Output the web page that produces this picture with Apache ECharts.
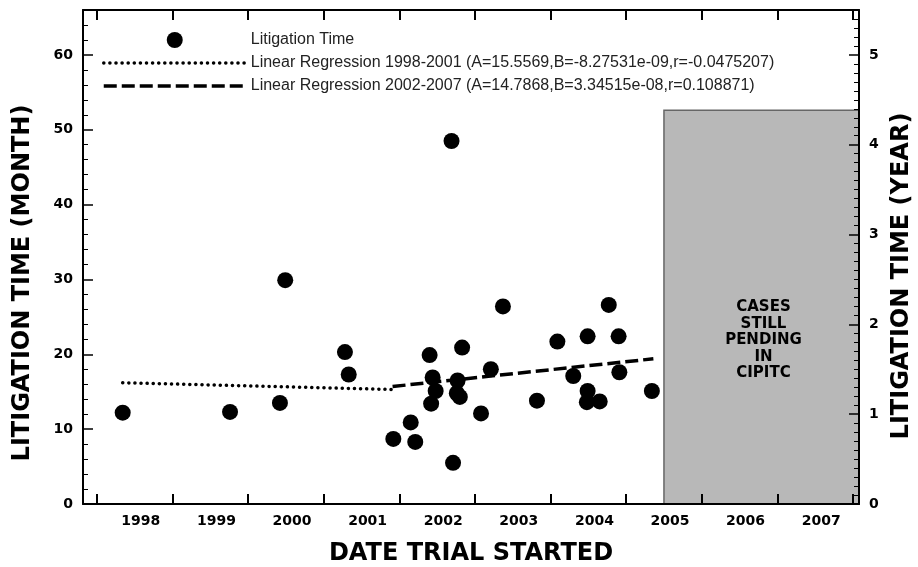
<!DOCTYPE html>
<html>
<head>
<meta charset="utf-8">
<script src="https://cdn.jsdelivr.net/npm/echarts@6/dist/echarts.min.js"></script>
<style>
  html, body { margin: 0; padding: 0; background: #fff; }
  #chart { width: 918px; height: 567px; }
</style>
</head>
<body>
<div id="chart"></div>
<script>
// litigation cases: trial start (fractional year) and duration (months)
var trialStart = [1998.34, 1999.76, 2000.42, 2000.49, 2001.28, 2001.33, 2001.92, 2002.15, 2002.21,
  2002.40, 2002.44, 2002.48, 2002.42, 2002.69, 2002.71, 2002.77, 2002.76, 2002.80, 2002.83,
  2003.08, 2003.21, 2003.37, 2003.82, 2004.09, 2004.30, 2004.49, 2004.49, 2004.48, 2004.65,
  2004.77, 2004.90, 2004.91, 2005.34];
var litigationMonths = [12.2, 12.3, 13.5, 29.9, 20.3, 17.3, 8.7, 10.9, 8.3,
  19.9, 16.9, 15.1, 13.4, 48.5, 5.5, 16.5, 14.8, 14.3, 20.9,
  12.1, 18.0, 26.4, 13.8, 21.7, 17.1, 22.4, 15.1, 13.6, 13.7,
  26.6, 22.4, 17.6, 15.1];

// regression lines (end points)
var reg1Years = [1998.34, 2001.90];
var reg1Months = [16.2, 15.3];
var reg2Years = [2001.91, 2005.36];
var reg2Months = [15.7, 19.4];

var yearTicks = [1998, 1999, 2000, 2001, 2002, 2003, 2004, 2005, 2006, 2007, 2008];
var yearLabels = [1998, 1999, 2000, 2001, 2002, 2003, 2004, 2005, 2006, 2007];

// pending cases box
var pendingFrom = 2005.5;
var pendingTo = 2008.08;
var pendingMonths = 52.6;

var boldFont = "DejaVu Sans";
var legendNames = [
  "Litigation Time",
  "Linear Regression 1998-2001 (A=15.5569,B=-8.27531e-09,r=-0.0475207)",
  "Linear Regression 2002-2007 (A=14.7868,B=3.34515e-08,r=0.108871)"
];

var dottedStyle = { color: "#000", width: 3.5, type: [0.1, 6], cap: "round" };
var dashedStyle = { color: "#000", width: 3.5, type: [13, 5] };

function zipPairs(xs, ys) {
  var out = [];
  for (var i = 0; i < xs.length; i++) out.push([xs[i], ys[i]]);
  return out;
}

var chart = echarts.init(document.getElementById("chart"));

var xCommon = {
  type: "value",
  min: 1997.815,
  max: 2008.08,
  z: 5,
  axisLine: { show: true, onZero: false, lineStyle: { color: "#000", width: 2 } },
  splitLine: { show: false }
};
var tickLabelStyle = { fontFamily: boldFont, fontWeight: "bold", fontSize: 14, color: "#000" };

function titleStyle(padding) {
  return { fontFamily: boldFont, fontWeight: "bold", fontSize: 24, color: "#000", padding: padding };
}

chart.setOption({
  animation: false,
  grid: { left: 83, right: 59, top: 10, bottom: 63, outerBoundsMode: "none" },
  legend: {
    orient: "vertical",
    left: 97,
    top: 27,
    itemWidth: 142,
    itemHeight: 16,
    itemGap: 7,
    textStyle: { fontFamily: "Liberation Sans", fontSize: 16, color: "#222" },
    data: [
      { name: legendNames[0] },
      { name: legendNames[1], itemStyle: { opacity: 0 }, lineStyle: dottedStyle },
      { name: legendNames[2], itemStyle: { opacity: 0 }, lineStyle: dashedStyle }
    ]
  },
  xAxis: [
    Object.assign({}, xCommon, {
      position: "bottom",
      name: "DATE TRIAL STARTED",
      nameLocation: "middle",
      nameGap: 38,
      nameTextStyle: titleStyle(0),
      axisTick: { show: true, inside: true, length: 10, customValues: yearTicks, lineStyle: { color: "#000", width: 2 } },
      axisLabel: Object.assign({
        customValues: yearLabels.map(function (y) { return y + 0.58; }),
        formatter: function (v) { return String(Math.floor(v)); },
        margin: 10
      }, tickLabelStyle)
    }),
    Object.assign({}, xCommon, {
      position: "top",
      axisTick: { show: true, inside: true, length: 10, customValues: yearTicks, lineStyle: { color: "#000", width: 2 } },
      axisLabel: { show: false }
    })
  ],
  yAxis: [
    {
      type: "value",
      position: "left",
      min: 0,
      max: 66,
      interval: 10,
      z: 5,
      name: "LITIGATION TIME (MONTH)",
      nameLocation: "middle",
      nameGap: 48,
      nameTextStyle: titleStyle([0, 52, 0, 0]),
      axisLine: { show: true, lineStyle: { color: "#000", width: 2 } },
      axisTick: { show: true, inside: true, length: 10, lineStyle: { color: "#000", width: 1.5 } },
      minorTick: { show: true, splitNumber: 5, length: 5, lineStyle: { color: "#000", width: 1 } },
      splitLine: { show: false },
      axisLabel: Object.assign({ margin: 10, showMaxLabel: false }, tickLabelStyle)
    },
    {
      type: "value",
      position: "right",
      min: 0,
      max: 5.5,
      interval: 1,
      z: 5,
      name: "LITIGATION TIME (YEAR)",
      nameLocation: "middle",
      nameGap: 31,
      nameRotate: 90,
      nameTextStyle: titleStyle([0, 38, 0, 0]),
      axisLine: { show: true, lineStyle: { color: "#000", width: 2 } },
      axisTick: { show: true, inside: true, length: 10, lineStyle: { color: "#000", width: 1.5 } },
      minorTick: { show: true, splitNumber: 10, length: 5, lineStyle: { color: "#000", width: 1 } },
      splitLine: { show: false },
      axisLabel: Object.assign({ margin: 10, showMaxLabel: false }, tickLabelStyle)
    }
  ],
  series: [
    {
      name: "pending",
      type: "line",
      data: [],
      z: 1,
      silent: true,
      markArea: {
        silent: true,
        itemStyle: { color: "#b8b8b8", borderColor: "#666", borderWidth: 1.5 },
        label: {
          show: true,
          position: "inside",
          offset: [2, 33],
          fontFamily: boldFont,
          fontWeight: "bold",
          fontSize: 15,
          lineHeight: 16.5,
          color: "#000",
          formatter: "CASES\nSTILL\nPENDING\nIN\nCIPITC"
        },
        data: [[{ coord: [pendingFrom, 0] }, { coord: [pendingTo, pendingMonths] }]]
      }
    },
    {
      name: legendNames[0],
      type: "scatter",
      symbol: "circle",
      symbolSize: 16,
      itemStyle: { color: "#000", opacity: 1 },
      z: 3,
      data: zipPairs(trialStart, litigationMonths)
    },
    {
      name: legendNames[1],
      type: "line",
      showSymbol: false,
      symbol: "none",
      z: 3,
      itemStyle: { color: "#000" },
      lineStyle: dottedStyle,
      data: zipPairs(reg1Years, reg1Months)
    },
    {
      name: legendNames[2],
      type: "line",
      showSymbol: false,
      symbol: "none",
      z: 3,
      itemStyle: { color: "#000" },
      lineStyle: dashedStyle,
      data: zipPairs(reg2Years, reg2Months)
    }
  ]
});
</script>
</body>
</html>
